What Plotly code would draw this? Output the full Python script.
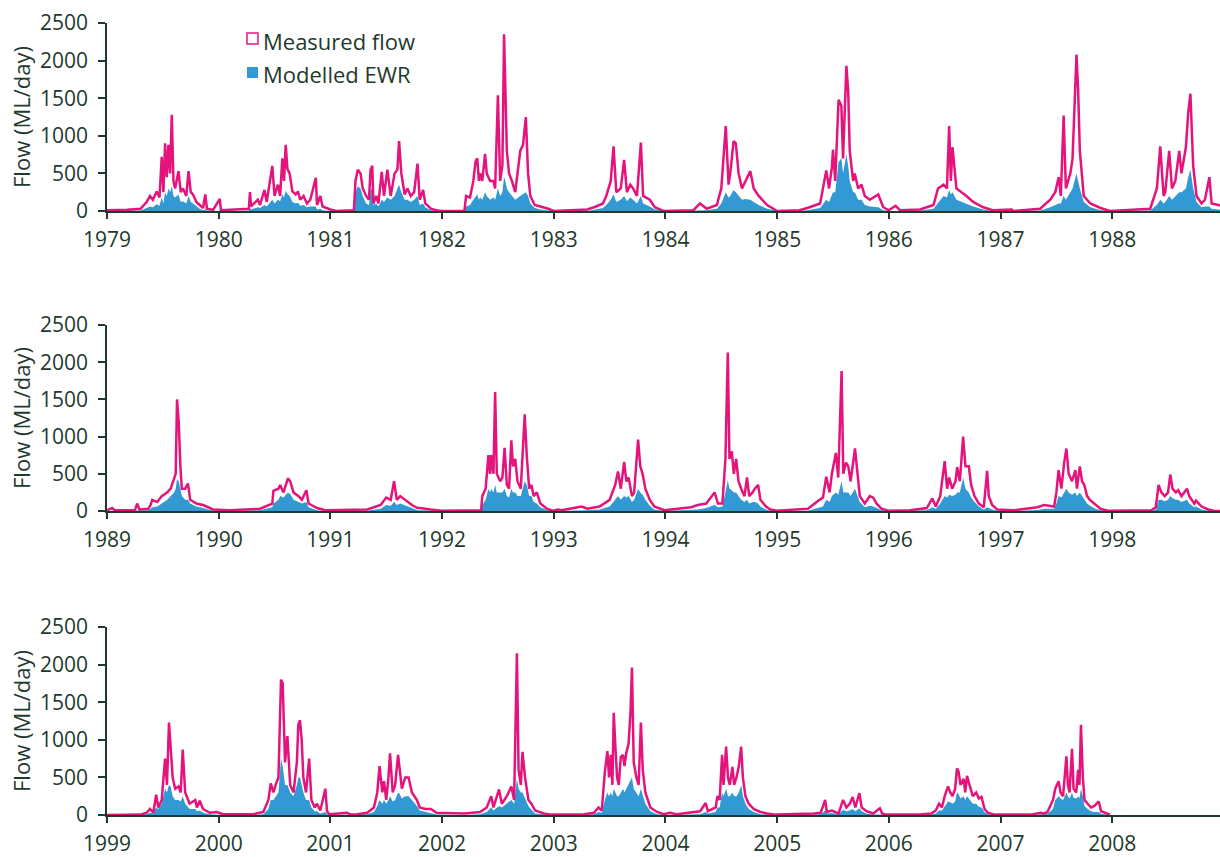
import plotly.graph_objects as go

# Flow series: decimal year, measured flow and modelled EWR (ML/day)
years_a = [
    1979.00, 1979.18, 1979.30, 1979.355, 1979.385, 1979.41, 1979.445, 1979.47, 1979.49, 1979.505, 1979.52, 1979.535, 1979.55, 1979.565, 1979.58, 1979.595, 1979.61, 1979.64, 1979.66, 1979.68, 1979.71, 1979.73, 1979.75, 1979.77, 1979.80, 1979.83, 1979.86, 1979.88, 1979.895, 1979.95, 1980.01, 1980.02,
    1980.15, 1980.27, 1980.28, 1980.29, 1980.35, 1980.37, 1980.41, 1980.43, 1980.48, 1980.50, 1980.53, 1980.55, 1980.57, 1980.585, 1980.60, 1980.615, 1980.635, 1980.66, 1980.69, 1980.71, 1980.73, 1980.76, 1980.79, 1980.82, 1980.87, 1980.88, 1980.91, 1980.93, 1981.00,
    1981.05, 1981.21, 1981.225, 1981.245, 1981.27, 1981.29, 1981.32, 1981.345, 1981.36, 1981.375, 1981.385, 1981.41, 1981.43, 1981.46, 1981.48, 1981.51, 1981.54, 1981.575, 1981.60, 1981.615, 1981.635, 1981.665, 1981.69, 1981.72, 1981.75, 1981.78, 1981.80, 1981.83, 1981.85, 1981.90, 1981.96,
    1982.00, 1982.20, 1982.215, 1982.25, 1982.28, 1982.30, 1982.315, 1982.33, 1982.34, 1982.36, 1982.385, 1982.40, 1982.43, 1982.46, 1982.475, 1982.50, 1982.52, 1982.54, 1982.555, 1982.567, 1982.58, 1982.60, 1982.625, 1982.655, 1982.70, 1982.725, 1982.75, 1982.77, 1982.79, 1982.83, 1982.88, 1982.95, 1983.00,
    1983.30, 1983.38, 1983.44, 1983.47, 1983.51, 1983.535, 1983.56, 1983.60, 1983.63, 1983.655, 1983.685, 1983.71, 1983.745, 1983.78, 1983.80, 1983.86, 1983.905, 1983.98,
    1984.25, 1984.31, 1984.37, 1984.46, 1984.50, 1984.54, 1984.565, 1984.58, 1984.61, 1984.63, 1984.655, 1984.685, 1984.715, 1984.76, 1984.79, 1984.835, 1984.91, 1984.97, 1985.00,
    1985.20, 1985.27, 1985.385, 1985.44, 1985.465, 1985.49, 1985.50, 1985.52, 1985.55, 1985.575, 1985.59, 1985.62, 1985.636, 1985.65, 1985.68, 1985.695, 1985.725, 1985.755, 1985.785, 1985.83, 1985.905, 1985.95, 1986.00,
    1986.06, 1986.10, 1986.28, 1986.40, 1986.44, 1986.49, 1986.52, 1986.54, 1986.555, 1986.57, 1986.605, 1986.65, 1986.695, 1986.755, 1986.845, 1986.93,
    1987.10, 1987.12, 1987.355, 1987.445, 1987.49, 1987.52, 1987.54, 1987.565, 1987.585, 1987.625, 1987.645, 1987.68, 1987.695, 1987.71, 1987.745, 1987.805, 1987.895, 1987.98,
    1988.34, 1988.40, 1988.43, 1988.46, 1988.475, 1988.51, 1988.535, 1988.565, 1988.60, 1988.62, 1988.66, 1988.68, 1988.70, 1988.725, 1988.755, 1988.80, 1988.83, 1988.87, 1988.89, 1988.95, 1988.99,
]
measured_a = [
    10, 15, 30, 120, 200, 150, 260, 180, 720, 250, 900, 450, 880, 500, 1280, 400, 300, 530, 250, 300, 200, 530, 250, 220, 120, 80, 40, 220, 30, 15, 160, 10,
    20, 30, 250, 60, 150, 80, 280, 120, 600, 200, 350, 200, 700, 400, 880, 560, 500, 260, 220, 260, 150, 200, 100, 150, 440, 80, 200, 60, 20,
    0, 10, 400, 550, 500, 300, 200, 150, 550, 600, 100, 200, 100, 520, 200, 550, 200, 500, 550, 930, 500, 220, 300, 200, 250, 630, 150, 280, 100, 30, 5,
    0, 0, 200, 180, 400, 660, 700, 400, 500, 400, 760, 500, 400, 400, 300, 1540, 400, 600, 2350, 1700, 800, 500, 400, 250, 800, 880, 1250, 500, 200, 80, 60, 30, 0,
    20, 60, 100, 200, 400, 860, 250, 300, 680, 250, 350, 300, 200, 910, 200, 150, 50, 0,
    10, 100, 30, 80, 300, 1130, 350, 500, 930, 900, 500, 300, 400, 530, 300, 200, 80, 20, 0,
    10, 40, 100, 540, 300, 580, 815, 400, 1480, 1400, 700, 1930, 1600, 800, 400, 500, 300, 350, 200, 150, 220, 50, 10,
    70, 10, 20, 80, 300, 350, 300, 1130, 400, 850, 300, 250, 200, 120, 50, 10,
    20, 0, 30, 150, 250, 450, 200, 1270, 300, 500, 700, 2080, 1600, 800, 200, 100, 40, 0,
    30, 300, 860, 200, 250, 800, 300, 400, 800, 500, 850, 1300, 1560, 600, 200, 100, 150, 450, 100, 80, 60,
]
ewr_a = [
    0, 0, 5, 40, 60, 50, 90, 70, 180, 100, 250, 200, 300, 250, 330, 200, 180, 220, 120, 130, 100, 200, 120, 100, 60, 30, 10, 20, 5, 0, 0, 0,
    0, 5, 30, 20, 50, 40, 80, 60, 150, 100, 150, 130, 220, 180, 270, 230, 200, 120, 100, 110, 70, 80, 50, 60, 60, 20, 30, 10, 0,
    0, 0, 250, 330, 300, 200, 100, 80, 280, 300, 80, 100, 60, 150, 120, 180, 150, 200, 300, 350, 250, 150, 150, 120, 150, 200, 80, 100, 50, 10, 0,
    0, 0, 60, 80, 150, 200, 220, 150, 180, 150, 250, 200, 150, 180, 150, 300, 200, 250, 450, 400, 300, 250, 200, 150, 200, 220, 250, 200, 100, 40, 20, 5, 0,
    0, 20, 40, 80, 150, 220, 120, 150, 200, 130, 180, 150, 100, 200, 100, 60, 20, 0,
    0, 10, 10, 30, 100, 250, 180, 200, 280, 250, 200, 150, 160, 150, 120, 80, 30, 5, 0,
    0, 10, 40, 150, 120, 200, 250, 250, 650, 700, 500, 750, 600, 400, 250, 250, 150, 150, 80, 60, 50, 10, 0,
    0, 0, 5, 30, 100, 200, 180, 280, 220, 250, 150, 120, 100, 60, 20, 0,
    0, 0, 5, 50, 80, 100, 100, 200, 150, 250, 300, 500, 400, 300, 120, 50, 10, 0,
    5, 80, 150, 100, 120, 200, 150, 200, 250, 250, 300, 450, 550, 300, 120, 50, 60, 60, 30, 20, 10,
]

years_b = [
    1989.00, 1989.045, 1989.07, 1989.25, 1989.27, 1989.29, 1989.37, 1989.39, 1989.405, 1989.45, 1989.49, 1989.54, 1989.57, 1989.60, 1989.615, 1989.627, 1989.642, 1989.657, 1989.67, 1989.70, 1989.725, 1989.745, 1989.80, 1989.86, 1989.95,
    1990.10, 1990.37, 1990.48, 1990.49, 1990.535, 1990.55, 1990.58, 1990.62, 1990.64, 1990.67, 1990.715, 1990.745, 1990.785, 1990.805, 1990.88, 1990.955,
    1991.33, 1991.45, 1991.50, 1991.54, 1991.57, 1991.595, 1991.625, 1991.67, 1991.73, 1991.78, 1991.80, 1991.90, 1992.00,
    1992.35, 1992.36, 1992.39, 1992.415, 1992.43, 1992.44, 1992.46, 1992.475, 1992.49, 1992.52, 1992.54, 1992.56, 1992.58, 1992.60, 1992.62, 1992.635, 1992.655, 1992.675, 1992.705, 1992.74, 1992.758, 1992.78, 1992.80, 1992.82, 1992.848, 1992.88, 1992.94, 1992.99,
    1993.04, 1993.07, 1993.25, 1993.30, 1993.41, 1993.50, 1993.55, 1993.575, 1993.60, 1993.63, 1993.65, 1993.67, 1993.70, 1993.72, 1993.755, 1993.775, 1993.795, 1993.82, 1993.86, 1993.90, 1993.99,
    1994.125, 1994.23, 1994.29, 1994.365, 1994.44, 1994.47, 1994.51, 1994.537, 1994.558, 1994.573, 1994.594, 1994.612, 1994.633, 1994.654, 1994.678, 1994.708, 1994.73, 1994.75, 1994.78, 1994.80, 1994.83, 1994.85, 1994.90, 1994.94, 1995.00,
    1995.275, 1995.38, 1995.41, 1995.44, 1995.47, 1995.49, 1995.526, 1995.547, 1995.577, 1995.592, 1995.616, 1995.637, 1995.658, 1995.697, 1995.72, 1995.74, 1995.785, 1995.83, 1995.86, 1995.89, 1995.935, 1995.995,
    1996.19, 1996.34, 1996.39, 1996.42, 1996.46, 1996.50, 1996.522, 1996.54, 1996.567, 1996.597, 1996.612, 1996.636, 1996.665, 1996.686, 1996.716, 1996.737, 1996.767, 1996.806, 1996.85, 1996.88, 1996.895, 1996.925, 1996.97,
    1997.12, 1997.33, 1997.39, 1997.48, 1997.50, 1997.52, 1997.545, 1997.57, 1997.59, 1997.61, 1997.64, 1997.67, 1997.684, 1997.71, 1997.73, 1997.75, 1997.775, 1997.80, 1997.85, 1997.895, 1997.96,
    1998.35, 1998.39, 1998.415, 1998.44, 1998.47, 1998.50, 1998.52, 1998.54, 1998.57, 1998.59, 1998.62, 1998.67, 1998.69, 1998.735, 1998.75, 1998.80, 1998.86, 1998.91, 1998.99,
]
measured_b = [
    10, 40, 10, 10, 100, 20, 30, 80, 150, 120, 200, 250, 300, 450, 500, 1500, 1200, 600, 300, 300, 370, 150, 100, 80, 20,
    10, 30, 100, 270, 300, 350, 250, 440, 400, 250, 200, 150, 280, 100, 40, 10,
    20, 80, 180, 150, 400, 150, 200, 150, 80, 40, 40, 20, 5,
    10, 200, 300, 750, 500, 750, 500, 1600, 500, 400, 450, 850, 350, 300, 950, 600, 700, 400, 300, 1300, 750, 300, 350, 200, 250, 100, 30, 5,
    20, 10, 60, 30, 60, 150, 350, 530, 300, 660, 400, 450, 200, 250, 960, 600, 500, 300, 150, 60, 10,
    30, 50, 80, 100, 250, 100, 100, 700, 2130, 700, 800, 500, 700, 400, 300, 200, 450, 200, 250, 300, 350, 150, 60, 20, 5,
    30, 150, 180, 460, 250, 500, 780, 450, 1880, 500, 650, 600, 400, 840, 500, 200, 100, 200, 180, 100, 30, 5,
    10, 40, 170, 60, 200, 670, 300, 450, 300, 400, 590, 400, 1000, 600, 600, 350, 200, 100, 50, 540, 200, 80, 20,
    10, 50, 80, 60, 250, 550, 300, 650, 840, 500, 400, 550, 300, 600, 400, 350, 200, 150, 80, 30, 5,
    10, 50, 350, 250, 200, 250, 490, 300, 250, 280, 200, 300, 200, 100, 140, 60, 20, 5, 0,
]
ewr_b = [
    0, 0, 0, 0, 10, 5, 10, 30, 50, 60, 100, 150, 200, 250, 300, 430, 400, 300, 200, 150, 150, 100, 60, 40, 5,
    0, 10, 50, 100, 150, 200, 180, 250, 230, 150, 120, 100, 120, 50, 10, 0,
    5, 30, 80, 70, 120, 80, 100, 70, 40, 10, 10, 5, 0,
    0, 80, 150, 300, 250, 300, 250, 350, 250, 250, 250, 300, 200, 180, 300, 250, 250, 200, 200, 400, 350, 200, 200, 120, 100, 50, 10, 0,
    0, 0, 10, 10, 20, 60, 150, 200, 150, 200, 180, 200, 120, 150, 300, 250, 220, 150, 70, 20, 0,
    5, 10, 20, 40, 80, 50, 60, 250, 410, 300, 280, 250, 250, 200, 150, 120, 150, 100, 120, 120, 100, 60, 20, 5, 0,
    5, 50, 60, 150, 120, 200, 250, 220, 400, 250, 250, 250, 200, 300, 200, 120, 50, 70, 60, 40, 10, 0,
    0, 10, 50, 30, 100, 200, 180, 220, 200, 220, 250, 250, 450, 300, 250, 180, 120, 60, 20, 50, 40, 20, 5,
    0, 15, 30, 30, 100, 200, 180, 250, 300, 250, 220, 250, 200, 250, 200, 150, 100, 70, 30, 10, 0,
    0, 20, 150, 150, 130, 150, 200, 170, 150, 150, 120, 150, 100, 50, 60, 20, 5, 0, 0,
]

years_c = [
    1999.00, 1999.30, 1999.355, 1999.385, 1999.415, 1999.44, 1999.46, 1999.49, 1999.52, 1999.537, 1999.555, 1999.57, 1999.588, 1999.61, 1999.64, 1999.66, 1999.678, 1999.70, 1999.74, 1999.79, 1999.805, 1999.83, 1999.86, 1999.92, 1999.98,
    2000.04, 2000.31, 2000.40, 2000.445, 2000.466, 2000.49, 2000.51, 2000.535, 2000.558, 2000.573, 2000.594, 2000.615, 2000.64, 2000.67, 2000.70, 2000.713, 2000.728, 2000.743, 2000.758, 2000.782, 2000.81, 2000.83, 2000.86, 2000.88, 2000.91, 2000.955, 2000.97, 2000.99,
    2001.15, 2001.18, 2001.24, 2001.33, 2001.39, 2001.42, 2001.44, 2001.465, 2001.48, 2001.50, 2001.52, 2001.534, 2001.558, 2001.58, 2001.606, 2001.62, 2001.64, 2001.67, 2001.70, 2001.73, 2001.775, 2001.80, 2001.85, 2001.90, 2001.95,
    2002.20, 2002.34, 2002.40, 2002.44, 2002.46, 2002.51, 2002.535, 2002.58, 2002.62, 2002.645, 2002.67, 2002.685, 2002.705, 2002.72, 2002.743, 2002.773, 2002.80, 2002.833, 2002.91, 2002.98,
    2003.27, 2003.36, 2003.40, 2003.43, 2003.457, 2003.48, 2003.495, 2003.51, 2003.525, 2003.537, 2003.552, 2003.567, 2003.582, 2003.60, 2003.62, 2003.633, 2003.65, 2003.67, 2003.687, 2003.70, 2003.716, 2003.74, 2003.76, 2003.78, 2003.797, 2003.82, 2003.865, 2003.925, 2003.985,
    2004.04, 2004.10, 2004.31, 2004.36, 2004.38, 2004.45, 2004.465, 2004.485, 2004.507, 2004.52, 2004.543, 2004.56, 2004.576, 2004.60, 2004.615, 2004.636, 2004.657, 2004.678, 2004.693, 2004.716, 2004.746, 2004.79, 2004.85, 2004.91, 2004.99,
    2005.33, 2005.39, 2005.43, 2005.445, 2005.49, 2005.55, 2005.59, 2005.62, 2005.65, 2005.676, 2005.70, 2005.736, 2005.757, 2005.80, 2005.86, 2005.92, 2005.94, 2005.98,
    2006.29, 2006.38, 2006.42, 2006.45, 2006.475, 2006.50, 2006.53, 2006.55, 2006.57, 2006.594, 2006.61, 2006.624, 2006.642, 2006.67, 2006.684, 2006.70, 2006.722, 2006.752, 2006.782, 2006.806, 2006.83, 2006.857, 2006.886, 2006.946,
    2007.27, 2007.36, 2007.39, 2007.42, 2007.47, 2007.49, 2007.52, 2007.537, 2007.56, 2007.59, 2007.603, 2007.618, 2007.64, 2007.654, 2007.678, 2007.695, 2007.707, 2007.72, 2007.737, 2007.752, 2007.78, 2007.81, 2007.84, 2007.88, 2007.90, 2007.945, 2007.98,
]
measured_c = [
    0, 5, 30, 80, 30, 270, 100, 200, 750, 400, 1230, 900, 500, 350, 380, 300, 870, 300, 150, 200, 100, 190, 80, 30, 40,
    10, 10, 40, 200, 420, 300, 400, 500, 1800, 1750, 700, 1050, 400, 300, 700, 1200, 1260, 1000, 500, 300, 750, 200, 100, 150, 60, 350, 50, 10,
    30, 5, 10, 30, 100, 300, 650, 300, 450, 200, 500, 820, 300, 400, 800, 600, 350, 500, 500, 300, 200, 100, 80, 80, 30,
    20, 40, 100, 250, 100, 340, 150, 250, 380, 200, 2150, 600, 400, 840, 500, 200, 150, 60, 20, 5,
    10, 30, 100, 60, 570, 850, 500, 800, 400, 1360, 900, 500, 400, 770, 800, 650, 830, 950, 1370, 1960, 700, 500, 400, 1230, 600, 300, 100, 40, 10,
    30, 10, 50, 160, 50, 100, 250, 200, 800, 400, 910, 500, 400, 640, 400, 500, 650, 910, 500, 250, 150, 80, 40, 20, 5,
    20, 30, 200, 40, 60, 20, 200, 100, 150, 240, 100, 290, 100, 50, 20, 90, 20, 5,
    10, 20, 60, 150, 100, 250, 380, 300, 250, 350, 620, 580, 400, 480, 300, 520, 400, 250, 300, 220, 240, 80, 30, 5,
    5, 30, 20, 40, 200, 350, 450, 300, 250, 780, 400, 300, 880, 350, 300, 600, 400, 1200, 500, 200, 150, 100, 120, 180, 50, 20, 5,
]
ewr_c = [
    0, 0, 10, 30, 20, 100, 80, 150, 350, 300, 400, 380, 250, 200, 200, 180, 250, 150, 80, 80, 50, 60, 30, 10, 5,
    0, 0, 10, 80, 200, 200, 250, 300, 750, 650, 400, 400, 300, 250, 400, 500, 500, 400, 300, 200, 200, 100, 50, 50, 20, 40, 10, 0,
    0, 0, 0, 10, 40, 120, 200, 150, 200, 150, 200, 250, 180, 200, 300, 280, 220, 250, 250, 200, 120, 60, 40, 20, 5,
    0, 10, 40, 100, 60, 120, 100, 150, 200, 150, 480, 350, 300, 300, 220, 120, 70, 20, 5, 0,
    0, 10, 40, 30, 200, 300, 250, 300, 250, 350, 300, 250, 250, 300, 350, 300, 350, 400, 450, 500, 350, 300, 250, 350, 250, 150, 50, 10, 0,
    0, 0, 10, 40, 20, 40, 100, 100, 300, 250, 350, 250, 250, 300, 250, 250, 300, 400, 250, 150, 80, 40, 10, 5, 0,
    5, 10, 60, 20, 25, 10, 70, 50, 60, 80, 50, 90, 50, 20, 5, 10, 5, 0,
    0, 5, 20, 60, 60, 120, 180, 170, 150, 180, 300, 280, 220, 250, 200, 250, 200, 150, 150, 110, 100, 40, 10, 0,
    0, 10, 10, 15, 80, 200, 250, 220, 200, 300, 250, 220, 300, 230, 220, 250, 220, 350, 250, 120, 80, 50, 40, 40, 15, 5, 0,
]

start_years = [1979, 1989, 1999]
y_ticks = [0, 500, 1000, 1500, 2000, 2500]

PINK = "#E4147C"
BLUE = "#3399D5"
INK = "#1E3A2C"
FONT = "Open Sans"
W, H = 1220, 857

panels = [(years_a, measured_a, ewr_a), (years_b, measured_b, ewr_b), (years_c, measured_c, ewr_c)]
# pixel rows of the 0 and 2500 levels in each panel
rows = [(211, 23), (511, 325), (815, 627)]
x_dom = [107 / W, 1.0]

fig = go.Figure()

for i, ((t, m, e), start) in enumerate(zip(panels, start_years)):
    s = "" if i == 0 else str(i + 1)
    fig.add_trace(go.Scatter(
        x=t, y=e, xaxis="x" + s, yaxis="y" + s, mode="lines",
        line=dict(width=0, color=BLUE), fill="tozeroy", fillcolor=BLUE,
        name="Modelled EWR", showlegend=False,
    ))
    fig.add_trace(go.Scatter(
        x=t, y=m, xaxis="x" + s, yaxis="y" + s, mode="lines",
        line=dict(width=2.5, color=PINK), name="Measured flow", showlegend=False,
    ))
    bottom, top = rows[i]
    ydom = [1 - bottom / H, 1 - top / H]
    yrs = list(range(start, start + 10))
    fig.layout["xaxis" + s] = dict(
        domain=x_dom, anchor="y" + s, range=[start, start + 9.965],
        tickvals=yrs, ticktext=[str(y) for y in yrs],
        showline=True, linecolor=INK, linewidth=1.5,
        ticks="outside", ticklen=6, tickwidth=1.5, tickcolor=INK,
        showgrid=False, zeroline=False, automargin=False, ticklabelstandoff=3,
        tickfont=dict(family=FONT, size=21, color=INK),
    )
    fig.layout["yaxis" + s] = dict(
        domain=ydom, anchor="x" + s, range=[0, 2500],
        tickvals=y_ticks, ticktext=[str(v) for v in y_ticks],
        showline=True, linecolor=INK, linewidth=1.5,
        ticks="outside", ticklen=7, tickwidth=1.5, tickcolor=INK,
        showgrid=False, zeroline=False, automargin=False, ticklabelstandoff=6,
        tickfont=dict(family=FONT, size=21, color=INK),
    )
    fig.add_annotation(
        x=21 / W, y=(ydom[0] + ydom[1]) / 2, xref="paper", yref="paper",
        xanchor="center", yanchor="middle",
        text="Flow (ML/day)", textangle=-90, showarrow=False,
        font=dict(family=FONT, size=22, color=INK),
    )

# legend drawn by hand so the keys sit tight against the labels
fig.add_shape(type="rect", xref="paper", yref="paper",
              x0=247 / W, x1=258 / W, y0=1 - 44 / H, y1=1 - 33 / H,
              line=dict(color=PINK, width=1.5), fillcolor="white")
fig.add_shape(type="rect", xref="paper", yref="paper",
              x0=247 / W, x1=258 / W, y0=1 - 78 / H, y1=1 - 67 / H,
              line=dict(color=BLUE, width=0), fillcolor=BLUE)
for label, yy in [("Measured flow", 41), ("Modelled EWR", 74)]:
    fig.add_annotation(x=261 / W, y=1 - yy / H, xref="paper", yref="paper",
                       text=label, showarrow=False, xanchor="left", yanchor="middle",
                       font=dict(family=FONT, size=22, color=INK))

fig.update_layout(
    width=W, height=H,
    margin=dict(l=0, r=0, t=0, b=0),
    paper_bgcolor="white", plot_bgcolor="white",
    showlegend=False,
)

# the page's default 8px body margin would shift the figure; remove it
fig.write_html("out.html", config={"displayModeBar": False},
               post_script="document.body.style.margin='0';")
